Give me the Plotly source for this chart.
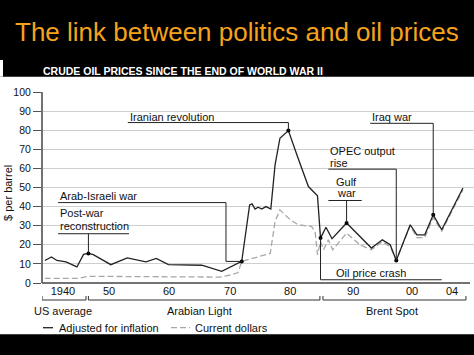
import plotly.graph_objects as go

# ---------------- data ----------------
years_adj = [1939.4, 1940.5, 1941.4, 1942.9, 1944.7, 1945.8, 1946.6, 1947.4, 1950.3, 1953.0,
             1956.1, 1957.8, 1959.8, 1965.3, 1968.6, 1971.9, 1973.2, 1973.6, 1974.1, 1974.6,
             1975.2, 1975.9, 1976.7, 1977.4, 1978.2, 1978.8, 1979.6, 1981.2, 1982.9, 1984.4,
             1984.9, 1985.8, 1986.8, 1989.2, 1993.3, 1995.1, 1996.4, 1997.4, 1999.7, 2000.8,
             2002.1, 2003.5, 2004.9, 2008.4]
vals_adj = [11.8, 13.6, 11.8, 11.1, 8.4, 15.0, 15.5, 14.8, 9.6, 13.1,
            11.1, 12.9, 9.6, 9.3, 6.1, 11.3, 40.9, 41.4, 38.7, 39.7,
            38.7, 40.0, 38.7, 61.8, 75.8, 77.5, 79.8, 65.3, 50.5, 45.6,
            23.5, 29.2, 23.2, 31.4, 18.3, 22.6, 20.0, 11.8, 30.5, 25.2,
            25.2, 35.7, 27.9, 49.7]

years_cur = [1939.4, 1944.9, 1946.6, 1960.0, 1968.3, 1970.2, 1971.3, 1971.9, 1976.6, 1977.4,
             1978.2, 1979.9, 1981.2, 1983.4, 1984.0, 1984.4, 1984.9, 1985.4, 1986.2, 1986.9,
             1989.2, 1991.4, 1993.3, 1995.1, 1996.4, 1997.4, 1999.7, 2000.8, 2002.1, 2003.5,
             2004.9, 2008.4]
vals_cur = [2.4, 2.4, 3.5, 3.3, 3.1, 4.3, 5.5, 11.3, 15.5, 32.2,
            38.3, 33.1, 30.5, 29.6, 27.0, 14.8, 21.7, 17.4, 22.6, 17.4,
            26.1, 20.0, 17.4, 21.7, 19.0, 12.0, 30.0, 23.8, 23.8, 34.3,
            27.0, 48.8]

# events marked with dots on the inflation-adjusted line (indices into the series)
event_idx = [6, 15, 26, 30, 33, 37, 41]

tick_labels = ["1940", "50", "60", "70", "80", "90", "00", "04"]
tick_pos = [1942.4, 1950.0, 1959.9, 1970.0, 1979.9, 1990.3, 2000.0, 2006.6]

y_ticks = [0, 10, 20, 30, 40, 50, 60, 70, 80, 90, 100]

# ---------------- layout helpers ----------------
W, H = 474, 355
ML, MR, MT, MB = 42, 0, 92, 72
PW, PH = W - ML - MR, H - MT - MB
X0 = 1938.94
PXY = 6.06  # px per year
X1 = X0 + PW / PXY

def px(p):   # pixel x -> paper x
    return (p - ML) / PW

def py(p):   # pixel y -> paper y
    return (H - MB - p) / PH

FONT = "Liberation Sans, Arial, Helvetica, sans-serif"
LINE_C = "#222222"

fig = go.Figure()

fig.add_trace(go.Scatter(x=years_cur, y=vals_cur, mode="lines",
                         line=dict(color="#a8a8a8", width=1.3, dash="6px,3px"),
                         hoverinfo="skip", showlegend=False))
fig.add_trace(go.Scatter(x=years_adj, y=vals_adj, mode="lines",
                         line=dict(color=LINE_C, width=1.3),
                         hoverinfo="skip", showlegend=False))
fig.add_trace(go.Scatter(x=[years_adj[i] for i in event_idx],
                         y=[vals_adj[i] for i in event_idx], mode="markers",
                         marker=dict(color="#000", size=4),
                         hoverinfo="skip", showlegend=False))

shapes = []
ann = []

def seg(x0, y0, x1, y1):
    shapes.append(dict(type="line", xref="x", yref="y", x0=x0, y0=y0, x1=x1, y1=y1,
                       line=dict(color=LINE_C, width=1)))

def text(x, y, t, xanchor="left", size=11):
    ann.append(dict(x=x, y=y, xref="x", yref="y", text=t, showarrow=False,
                    xanchor=xanchor, yanchor="middle",
                    font=dict(family=FONT, size=size, color="#111")))

ev = lambda i: (years_adj[event_idx[i]], vals_adj[event_idx[i]])

# Post-war reconstruction
text(1941.6, 36.9, "Post-war")
text(1941.6, 30.0, "reconstruction")
seg(1941.6, 25.8, 1953.3, 25.8)
seg(ev(0)[0], 25.8, *ev(0))
# Arab-Israeli war
text(1941.6, 45.3, "Arab-Israeli war")
seg(1941.6, 42.1, 1969.3, 42.1)
seg(1969.3, 42.1, 1969.3, ev(1)[1])
seg(1969.3, ev(1)[1], *ev(1))
# Iranian revolution
text(1953.1, 86.8, "Iranian revolution")
seg(1953.1, 84.0, ev(2)[0], 84.0)
seg(ev(2)[0], 84.0, *ev(2))
# OPEC output rise
text(1986.2, 69.3, "OPEC output")
text(1986.2, 63.0, "rise")
seg(1986.2, 59.6, ev(5)[0], 59.6)
seg(ev(5)[0], 59.6, *ev(5))
# Gulf war
text(ev(4)[0], 53.1, "Gulf", xanchor="center")
text(ev(4)[0], 47.0, "war", xanchor="center")
seg(1986.2, 43.2, 1991.7, 43.2)
seg(ev(4)[0], 43.2, *ev(4))
# Iraq war
text(1993.1, 86.8, "Iraq war")
seg(1993.1, 83.6, ev(6)[0], 83.6)
seg(ev(6)[0], 83.6, *ev(6))
# Oil price crash
text(1987.1, 5.2, "Oil price crash")
seg(ev(3)[0], 1.7, 2004.9, 1.7)
seg(ev(3)[0], 1.7, *ev(3))

# brackets under the x axis
def bracket(xa, xb):
    yb, yt = py(300), py(296)
    for s in [dict(x0=xa, x1=xb, y0=yb, y1=yb), dict(x0=xa, x1=xa, y0=yb, y1=yt),
              dict(x0=xb, x1=xb, y0=yb, y1=yt)]:
        shapes.append(dict(type="line", xref="x", yref="paper", line=dict(color="#333", width=1), **s))

bracket(1938.95, 1946.2)
bracket(1946.6, 1984.8)
bracket(1985.3, 2008.9)
for xc, t in [(1942.4, "US average"), (1964.9, "Arabian Light"), (1996.7, "Brent Spot")]:
    ann.append(dict(x=xc, y=py(310.7), xref="x", yref="paper", text=t, showarrow=False,
                    xanchor="center", yanchor="middle", font=dict(family=FONT, size=11, color="#111")))

# legend (drawn)
shapes.append(dict(type="line", xref="paper", yref="paper", x0=px(43), x1=px(53),
                   y0=py(327.7), y1=py(327.7), line=dict(color=LINE_C, width=1.3)))
shapes.append(dict(type="line", xref="paper", yref="paper", x0=px(171), x1=px(190),
                   y0=py(327.7), y1=py(327.7), line=dict(color="#a8a8a8", width=1.3, dash="6px,3px")))
ann.append(dict(x=px(57), y=py(327.7), xref="paper", yref="paper", text="Adjusted for inflation",
                showarrow=False, xanchor="left", yanchor="middle", font=dict(family=FONT, size=11, color="#111")))
ann.append(dict(x=px(193), y=py(327.7), xref="paper", yref="paper", text="Current dollars",
                showarrow=False, xanchor="left", yanchor="middle", font=dict(family=FONT, size=11, color="#111")))

# header & footer bands
shapes.append(dict(type="rect", xref="paper", yref="paper", x0=px(0), x1=px(474), y0=py(76.7), y1=py(0),
                   fillcolor="#000", line=dict(width=0), layer="below"))
shapes.append(dict(type="rect", xref="paper", yref="paper", x0=px(0), x1=px(3), y0=py(76.7), y1=py(60),
                   fillcolor="#fff", line=dict(width=0), layer="below"))
shapes.append(dict(type="rect", xref="paper", yref="paper", x0=px(0), x1=px(474), y0=py(355), y1=py(334.3),
                   fillcolor="#000", line=dict(width=0), layer="below"))

ann.append(dict(x=px(12.7), y=py(31.5), xref="paper", yref="paper",
                text="The link between politics and oil prices", showarrow=False,
                xanchor="left", yanchor="middle", font=dict(family=FONT, size=26, color="#f5a31c")))
ann.append(dict(x=px(40.7), y=py(71), xref="paper", yref="paper",
                text="<b>CRUDE OIL PRICES SINCE THE END OF WORLD WAR II</b>", showarrow=False,
                xanchor="left", yanchor="middle", font=dict(family=FONT, size=10.5, color="#fff")))
# y axis title
ann.append(dict(x=px(8), y=py(193), xref="paper", yref="paper", text="$ per barrel",
                textangle=-90, showarrow=False, xanchor="center", yanchor="middle",
                font=dict(family=FONT, size=11, color="#111")))

fig.update_layout(
    width=W, height=H, margin=dict(l=ML, r=MR, t=MT, b=MB),
    paper_bgcolor="#fff", plot_bgcolor="#fff",
    shapes=shapes, annotations=ann, showlegend=False,
    xaxis=dict(range=[X0, X1], tickvals=tick_pos, ticktext=tick_labels, showgrid=False,
               zeroline=False, showline=False, ticks="",
               tickfont=dict(family=FONT, size=11, color="#111")),
    yaxis=dict(range=[0, 100], tickvals=y_ticks, showgrid=True, gridcolor="#cfcfcf", gridwidth=1,
               zeroline=False, showline=False, ticks="outside", ticklen=8, tickcolor="#555",
               tickfont=dict(family=FONT, size=10.5, color="#111")),
)
# axis lines
fig.add_shape(type="line", xref="paper", yref="paper", x0=0, x1=px(470), y0=0, y1=0,
              line=dict(color="#444", width=1.5))
fig.add_shape(type="line", xref="paper", yref="paper", x0=0, x1=0, y0=0, y1=1,
              line=dict(color="#444", width=1.5))

fig.write_html("out.html", config={"displayModeBar": False},
               post_script="document.body.style.margin='0';document.body.style.overflow='hidden';")
